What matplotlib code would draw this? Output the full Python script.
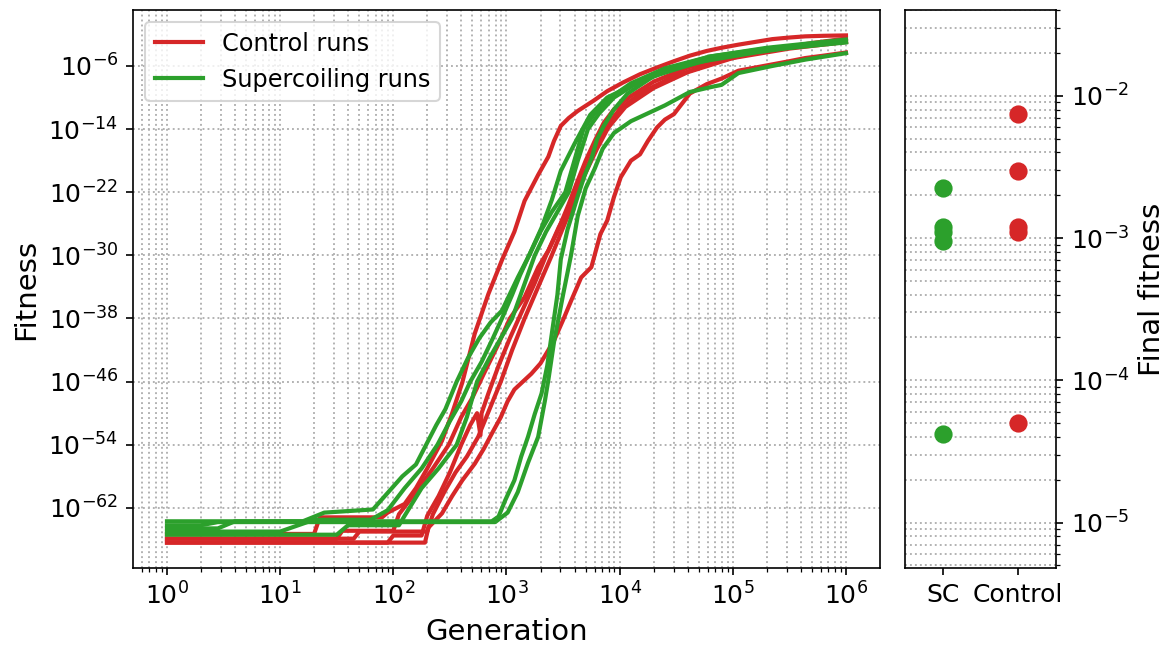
import numpy as np
import matplotlib
matplotlib.use('Agg')
import matplotlib.pyplot as plt
from matplotlib.ticker import NullLocator, LogLocator

# log10(generation) / log10(fitness)
ctrl_loggen = [
    [0, 1.3, 1.35, 1.9, 1.95, 2.1, 2.2, 2.3, 2.43, 2.52, 2.61, 2.72, 2.84, 2.96, 3.07, 3.16, 3.28, 3.37, 3.42, 3.48,
     3.55, 3.63, 3.77, 3.89, 4.03, 4.18, 4.33, 4.48, 4.62, 4.77, 4.9, 5.05, 5.2, 5.35, 5.5, 5.64, 5.8, 6.0],
    [0, 1.5, 1.55, 2.0, 2.05, 2.2, 2.35, 2.49, 2.6, 2.7, 2.8, 2.92, 3.03, 3.16, 3.28, 3.37, 3.46, 3.54, 3.6, 3.66,
     3.72, 3.77, 3.83, 3.89, 4.0, 4.2, 4.5, 4.9, 5.3, 5.7, 6.0],
    [0, 1.95, 2.0, 2.25, 2.3, 2.4, 2.5, 2.6, 2.68, 2.74, 2.77, 2.78, 2.84, 2.93, 3.03, 3.14, 3.25, 3.35, 3.45,
     3.55, 3.63, 3.7, 3.78, 3.86, 3.95, 4.1, 4.3, 4.6, 5.0, 5.5, 6.0],
    [0, 1.65, 1.7, 2.3, 2.35, 2.45, 2.55, 2.65, 2.75, 2.85, 2.95, 3.05, 3.16, 3.28, 3.4, 3.5, 3.6, 3.7, 3.8, 3.9,
     4.05, 4.3, 4.6, 5.0, 5.5, 6.0],
    [0, 2.28, 2.31, 2.43, 2.52, 2.61, 2.72, 2.8, 2.87, 2.95, 3.01, 3.07, 3.13, 3.22, 3.3, 3.42, 3.5, 3.57, 3.66,
     3.75, 3.83, 3.89, 3.95, 4.01, 4.1, 4.18, 4.25, 4.33, 4.4, 4.48, 4.55, 4.62, 4.77, 4.9, 5.05, 5.2, 5.35, 5.5,
     5.64, 5.8, 6.0],
]
ctrl_logfit = [
    [-65.3, -65.3, -63.2, -63.2, -62.6, -61.5, -59.5, -57, -53.5, -50, -46.1, -39.9, -34.9, -30.6, -27, -23.1,
     -19.8, -17.5, -15.5, -13.6, -12.6, -11.7, -10.4, -9.2, -8.1, -7.05, -6.2, -5.4, -4.7, -4.1, -3.7, -3.3, -2.95,
     -2.6, -2.4, -2.25, -2.18, -2.13],
    [-65.9, -65.9, -64.9, -64.9, -62.8, -60, -57, -54, -50.5, -48, -45, -41.5, -38, -35.3, -31.5, -29.4, -26.5,
     -24.3, -22.5, -20.6, -18.5, -16.9, -15, -13.5, -11.5, -9.3, -7.2, -5.3, -4.0, -3.1, -2.53],
    [-66.4, -66.4, -65.5, -65.5, -63, -60.5, -57.5, -54, -51.5, -50, -52.8, -50, -47.5, -44, -40.5, -37, -33.5,
     -30, -27, -23.5, -20.5, -18, -15.5, -13.2, -11.5, -9.8, -8, -6.2, -4.7, -3.6, -2.92],
    [-65.9, -65.9, -65.0, -65.0, -62.8, -60, -57.5, -55.5, -53, -49.5, -46, -42, -38, -34, -30, -26.5, -23, -19.5,
     -16.5, -13.8, -11.2, -8.8, -6.8, -5, -3.8, -2.96],
    [-66.4, -66.4, -64.5, -62.7, -60.5, -58.5, -56.4, -54.5, -52.6, -50.5, -48.5, -47, -46.2, -45, -43.7, -40.8,
     -38.2, -35.8, -32.8, -31.5, -27.3, -25.6, -22.6, -20.1, -18, -17.2, -15.5, -13.8, -12.8, -12.1, -10.8, -9.5,
     -8.3, -7.6, -6.6, -6.2, -5.8, -5.4, -5.0, -4.7, -4.3],
]
sc_loggen = [
    [0, 0.45, 0.6, 1.2, 1.39, 1.82, 1.95, 2.08, 2.2, 2.29, 2.38, 2.46, 2.56, 2.66, 2.76, 2.86, 2.96, 3.1, 3.2, 3.31,
     3.4, 3.48, 3.6, 3.74, 3.89, 4.12, 4.4, 4.8, 5.3, 5.7, 6.0],
    [0, 1.0, 1.3, 1.8, 1.95, 2.1, 2.25, 2.39, 2.5, 2.6, 2.68, 2.78, 2.88, 2.96, 3.05, 3.12, 3.2, 3.3, 3.4, 3.52,
     3.6, 3.68, 3.78, 3.9, 4.1, 4.4, 4.8, 5.3, 6.0],
    [0, 1.5, 1.6, 2.05, 2.1, 2.25, 2.4, 2.56, 2.65, 2.74, 2.85, 2.95, 3.05, 3.15, 3.25, 3.35, 3.45, 3.55, 3.63,
     3.72, 3.82, 3.95, 4.15, 4.45, 4.85, 5.3, 6.0],
    [0, 2.87, 2.93, 2.99, 3.07, 3.13, 3.19, 3.25, 3.31, 3.36, 3.4, 3.45, 3.48, 3.54, 3.63, 3.69, 3.75, 3.8, 3.86,
     3.95, 4.07, 4.3, 4.7, 5.2, 5.6, 6.0],
    [0, 0.3, 0.45, 2.9, 3.01, 3.1, 3.19, 3.28, 3.34, 3.37, 3.42, 3.5, 3.57, 3.63, 3.7, 3.78, 3.85, 3.95, 4.1, 4.25,
     4.4, 4.62, 4.8, 4.9, 5.05, 5.35, 5.64, 6.0],
]
sc_logfit = [
    [-64.6, -64.6, -63.7, -63.7, -62.6, -62.2, -60.1, -58, -56.5, -54, -51.5, -49.5, -46, -43, -40.5, -38.5, -37,
     -32.8, -30, -26.5, -23, -19.3, -15.9, -12.2, -10, -8.4, -6.5, -4.8, -3.7, -3.1, -2.65],
    [-65.0, -65.0, -63.5, -63.5, -62.3, -59.5, -57, -54, -51, -48.5, -46, -43.5, -40.5, -38, -35, -32.5, -30, -27,
     -24.5, -22, -18, -14, -12, -10.2, -8.2, -6.3, -4.8, -3.8, -2.92],
    [-65.4, -65.4, -64.2, -64.2, -63, -59.5, -57, -54, -50.5, -46, -43, -40.5, -38, -34, -30, -27, -24.5, -22, -18,
     -14, -12, -10, -8.2, -6.5, -5, -4, -3.02],
    [-63.7, -63.7, -63.1, -61, -58.5, -55.5, -53, -50.1, -47.5, -44, -40, -35, -30.5, -26.7, -22.5, -19.9, -17.8,
     -15.3, -13.6, -11.5, -9.5, -7.3, -5.5, -4.3, -3.5, -2.96],
    [-64.2, -64.2, -63.8, -63.8, -62.6, -60, -56.3, -53, -48.4, -45.8, -41, -35, -30, -25, -21.5, -19, -16.5,
     -14.5, -13, -12, -11, -9.3, -8.7, -8.4, -6.9, -6.0, -5.2, -4.38],
]

red = '#d62728'
green = '#2ca02c'

fig = plt.figure(figsize=(7.78, 4.32), dpi=150)
ax = fig.add_axes([0.114, 0.1235, 0.640, 0.861])
ax2 = fig.add_axes([0.7755, 0.1235, 0.1294, 0.861])

for i in range(len(ctrl_loggen)):
    ax.plot(10.0 ** np.array(ctrl_loggen[i]), 10.0 ** np.array(ctrl_logfit[i]), color=red, lw=2,
            label='Control runs' if i == 0 else None)
for i in range(len(sc_loggen)):
    ax.plot(10.0 ** np.array(sc_loggen[i]), 10.0 ** np.array(sc_logfit[i]), color=green, lw=2,
            label='Supercoiling runs' if i == 0 else None)

ax.set_xscale('log')
ax.set_yscale('log')
ax.set_yticks([10.0 ** e for e in range(-62, 0, 8)])
ax.yaxis.set_minor_locator(NullLocator())
ax.xaxis.set_major_locator(LogLocator(base=10, numticks=20))
ax.xaxis.set_minor_locator(LogLocator(base=10, subs=np.arange(2, 10), numticks=20))
ax.grid(which='both', linestyle=':', color='#b0b0b0', linewidth=0.9)
ax.tick_params(labelsize=12)
ax.set_xlabel('Generation', fontsize=14)
ax.set_ylabel('Fitness', fontsize=14)
ax.legend(loc='upper left', fontsize=11.5)

# final fitness of every run
sc_final = [10.0 ** f[-1] for f in sc_logfit]
ctrl_final = [10.0 ** f[-1] for f in ctrl_logfit]
ax2.scatter(['SC'] * len(sc_final), sc_final, color=green, s=60, zorder=3)
ax2.scatter(['Control'] * len(ctrl_final), ctrl_final, color=red, s=60, zorder=3)
ax2.set_yscale('log')
ax2.set_ylim(4.8e-6, 4e-2)
ax2.set_xlim(-0.5, 1.5)
ax2.yaxis.tick_right()
ax2.yaxis.set_label_position('right')
ax2.grid(axis='y', which='both', linestyle=':', color='#b0b0b0', linewidth=0.9)
ax2.tick_params(labelsize=12)
ax2.set_ylabel('Final fitness', fontsize=14)

fig.savefig('out.png', dpi=150)
